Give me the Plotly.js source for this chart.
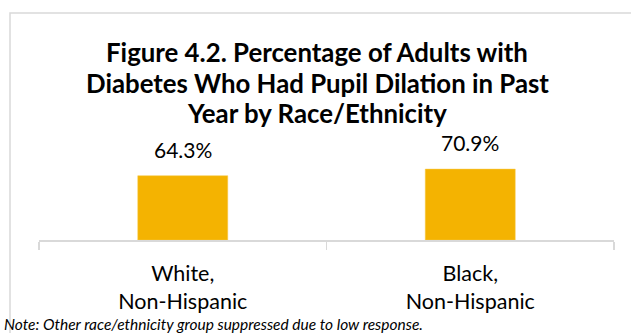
<!DOCTYPE html>
<html>
<head>
<meta charset="utf-8">
<script src="https://cdn.plot.ly/plotly-3.0.1.min.js"></script>
<style>html,body{margin:0;padding:0;background:#fff;}#chart{width:631px;height:333px;}</style>
</head>
<body>
<div id="chart"></div>
<script>
const categories = ["White,<br>Non-Hispanic", "Black,<br>Non-Hispanic"];
const values = [64.3, 70.9];
const titleLines = [
  "Figure 4.2. Percentage of Adults with",
  "Diabetes Who Had Pupil Dilation in Past",
  "Year by Race/Ethnicity"
];
const noteText = "Note: Other race/ethnicity group suppressed due to low response.";

const FONT = "Lato, 'Open Sans', sans-serif";
const L = 39, R = 17, T = 140, B = 93, W = 631, H = 333;
const pw = W - L - R, ph = H - T - B;
const px = x => (x - L) / pw;
const py = y => (H - B - y) / ph;

const annotations = [];
titleLines.forEach((t, i) => {
  annotations.push({
    xref: 'paper', yref: 'paper', x: px(317), y: py([52, 83, 113][i]),
    xanchor: 'center', yanchor: 'middle', showarrow: false,
    text: '<b>' + t + '</b>',
    font: {family: FONT, size: 25.8, color: '#000000'}
  });
});
values.forEach((v, i) => {
  annotations.push({
    x: categories[i], y: v, xref: 'x', yref: 'y',
    text: v.toFixed(1) + '%', showarrow: false,
    xanchor: 'center', yanchor: 'bottom', yshift: 12,
    font: {family: FONT, size: 21, color: '#000000'}
  });
});
annotations.push({
  xref: 'paper', yref: 'paper', x: px(2), y: py(323.5),
  xanchor: 'left', yanchor: 'middle', showarrow: false,
  text: '<i>' + noteText + '</i>',
  font: {family: FONT, size: 15.5, color: '#000000'}
});

const data = [{
  type: 'bar',
  x: categories,
  y: values,
  width: 0.313,
  marker: {color: '#F4B301', line: {color: '#F7C94A', width: 0.5}},
  hoverinfo: 'skip'
}];

const layout = {
  width: W, height: H,
  margin: {l: L, r: R, t: T, b: B, pad: 0},
  paper_bgcolor: '#ffffff', plot_bgcolor: '#ffffff',
  showlegend: false,
  xaxis: {
    type: 'category',
    showline: true, linecolor: '#D9D9D9', linewidth: 1.5,
    ticks: 'outside', tickson: 'boundaries', ticklen: 8, tickcolor: '#D9D9D9', tickwidth: 1.5,
    ticklabelstandoff: 14,
    tickfont: {family: FONT, size: 21.5, color: '#000000'},
    showgrid: false, zeroline: false, fixedrange: true
  },
  yaxis: {range: [0, 100], visible: false, fixedrange: true},
  shapes: [{
    type: 'rect', xref: 'paper', yref: 'paper',
    x0: px(10), x1: px(700), y0: py(400), y1: py(13),
    line: {color: '#D9D9D9', width: 1.5}, fillcolor: 'rgba(0,0,0,0)', layer: 'below'
  }],
  annotations: annotations
};

Plotly.newPlot('chart', data, layout, {staticPlot: true, displayModeBar: false});
</script>
</body>
</html>
